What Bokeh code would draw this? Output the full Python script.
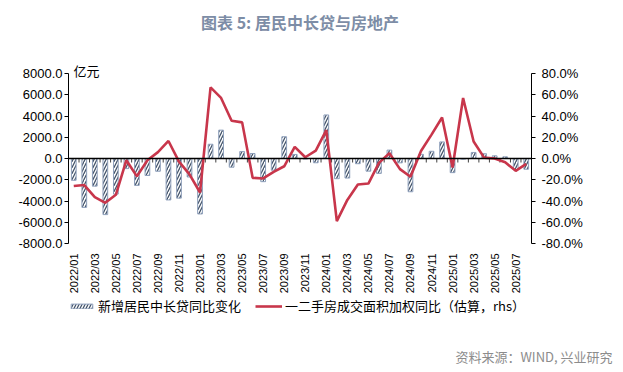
import numpy as np
from bokeh.plotting import figure
from bokeh.models import (Range1d, LinearAxis, FixedTicker, NumeralTickFormatter,
                          Title, Legend, LegendItem, ColumnDataSource, Span)
from bokeh.core.properties import value
from bokeh.embed import file_html
from bokeh.resources import INLINE

# ---------------- data ----------------
months = [f"{y}/{m:02d}" for y in (2022, 2023, 2024, 2025) for m in range(1, 13)][:44]

# 新增居民中长贷同比变化 (亿元)
loan_yoy = [-2050, -4600, -2600, -5280, -3350, -950, -2530, -1600, -1200, -3900, -3730, -1740,
            -5220, 1340, 2670, -820, 650, 470, -2180, -1100, 2050, 380, -50, -400,
            4100, -1900, -1840, -490, -1190, -1400, 790, -410, -3130, 390, 680, 1560,
            -1330, -60, 570, 450, 250, 155, -1050, -1010]

# 一二手房成交面积加权同比（估算）
area_yoy = [-0.259, -0.25, -0.364, -0.417, -0.342, -0.016, -0.168, -0.016, 0.06, 0.165, -0.03, -0.15,
            -0.32, 0.67, 0.57, 0.355, 0.34, -0.182, -0.188, -0.126, -0.073, 0.11, 0.012, 0.075,
            0.267, -0.59, -0.39, -0.245, -0.236, -0.041, 0.05, -0.10, -0.172, 0.07, 0.225, 0.386,
            -0.085, 0.57, 0.16, 0.008, 0.0, -0.036, -0.116, -0.05]

left_ticks = [-8000, -6000, -4000, -2000, 0, 2000, 4000, 6000, 8000]
right_ticks = [-0.8, -0.6, -0.4, -0.2, 0.0, 0.2, 0.4, 0.6, 0.8]

title_text = "图表 5: 居民中长贷与房地产"
unit_text = "亿元"
bar_name = "新增居民中长贷同比变化"
line_name = "一二手房成交面积加权同比（估算，rhs）"
source_text = "资料来源：WIND, 兴业研究"

# ---------------- layout (pixels) ----------------
W, H = 623, 372
FL, FT, FW = 68, 73, 463      # frame left / top / width
AXIS_H = 170                  # height of the value-axis span
FB = 345                      # frame bottom (frame also holds the month labels + legend)
FH = FB - FT
n = len(months)
idx = list(range(n))

l_span = left_ticks[-1] - left_ticks[0]
r_span = right_ticks[-1] - right_ticks[0]
extra_px = FH - AXIS_H
y_lo = left_ticks[0] - extra_px * l_span / AXIS_H
r_lo = right_ticks[0] - extra_px * r_span / AXIS_H

p = figure(frame_width=FW, frame_height=FH, output_backend="svg", toolbar_location=None,
           x_range=Range1d(-0.5, n - 0.5), y_range=Range1d(y_lo, left_ticks[-1]),
           x_axis_location=None,
           min_border_left=FL, min_border_right=W - FL - FW,
           min_border_top=FT, min_border_bottom=H - FB)
p.extra_y_ranges = {"pct": Range1d(r_lo, right_ticks[-1])}
p.outline_line_color = None
p.xgrid.visible = False
p.ygrid.visible = False
p.background_fill_color = "white"
p.border_fill_color = "white"

src = ColumnDataSource(dict(x=idx, loan=loan_yoy, pct=area_yoy))

bars = p.vbar(x="x", top="loan", bottom=0, width=0.45, source=src,
              fill_color="white", line_color="#8FA0BC", line_width=1,
              hatch_pattern="/", hatch_color="#44546A", hatch_scale=6, hatch_weight=1.3)

p.add_layout(Span(location=0, dimension="width", line_color="black", line_width=1.3))

# category boundary tick marks on the zero line
tick_len = 4 * l_span / AXIS_H
bounds = [i + 0.5 for i in idx[:-1]]
p.segment(x0=bounds, y0=[0] * len(bounds), x1=bounds, y1=[-tick_len] * len(bounds),
          line_color="#404040", line_width=1)

line = p.line(x="x", y="pct", source=src, y_range_name="pct",
              line_color="#C8364B", line_width=2.6)

# month labels (every other month), vertical, just below the value-axis span
lab_idx = idx[::2]
lab_y = left_ticks[0] - 10 * l_span / AXIS_H
p.text(x=lab_idx, y=[lab_y] * len(lab_idx), text=[months[i] for i in lab_idx],
       angle=np.pi / 2, text_align="right", text_baseline="middle",
       text_font=value("Liberation Sans"), text_font_size=value("11px"), text_color="black")

# axes
la = p.yaxis[0]
la.bounds = (left_ticks[0], left_ticks[-1])
la.ticker = FixedTicker(ticks=left_ticks)
la.formatter = NumeralTickFormatter(format="0.0")
la.major_tick_in = 0
la.major_tick_out = 4
la.minor_tick_line_color = None
la.axis_line_color = "black"
la.major_tick_line_color = "black"
la.major_label_text_font = "Liberation Sans"
la.major_label_text_font_size = "13px"
la.major_label_text_color = "black"
la.major_label_standoff = 2

ra = LinearAxis(y_range_name="pct", ticker=FixedTicker(ticks=right_ticks),
                formatter=NumeralTickFormatter(format="0.0%"),
                bounds=(right_ticks[0], right_ticks[-1]))
ra.major_tick_in = 0
ra.major_tick_out = 4
ra.minor_tick_line_color = None
ra.axis_line_color = "black"
ra.major_tick_line_color = "black"
ra.major_label_text_font = "Liberation Sans"
ra.major_label_text_font_size = "13px"
ra.major_label_text_color = "black"
ra.major_label_standoff = 6
p.add_layout(ra, "right")

# texts in side panels (above: unit next to the frame, spacer, main title)
unit = Title(text=unit_text, align="left", offset=5, standoff=-12, vertical_align="bottom",
             text_font="Noto Sans CJK SC", text_font_size="13px", text_font_style="normal",
             text_color="black")
p.add_layout(unit, "above")
spacer = Title(text=" ", align="left", standoff=0, text_font="Noto Sans CJK SC",
               text_font_size="13px", text_font_style="normal")
p.add_layout(spacer, "above")
ttl = Title(text=title_text, align="center", standoff=15, vertical_align="top",
            text_font="Noto Sans CJK SC", text_font_size="16px", text_font_style="bold",
            text_color="#7D8DA6")
p.add_layout(ttl, "above")

legend = Legend(items=[LegendItem(label=bar_name, renderers=[bars]),
                       LegendItem(label=line_name, renderers=[line])],
                location=(0, 30), orientation="horizontal",
                glyph_width=27, glyph_height=6, label_standoff=3, spacing=14,
                padding=0, margin=0, border_line_color=None, background_fill_alpha=0,
                label_text_font="Noto Sans CJK SC", label_text_font_size="13px",
                label_text_color="black", label_height=14)
p.add_layout(legend)

src_title = Title(text=source_text, align="right", offset=-81, standoff=2,
                  vertical_align="top", text_font="Noto Sans CJK SC",
                  text_font_size="13px", text_font_style="normal", text_color="#8C8C8C")
p.add_layout(src_title, "below")

open("out.html", "w").write(file_html(p, INLINE))
